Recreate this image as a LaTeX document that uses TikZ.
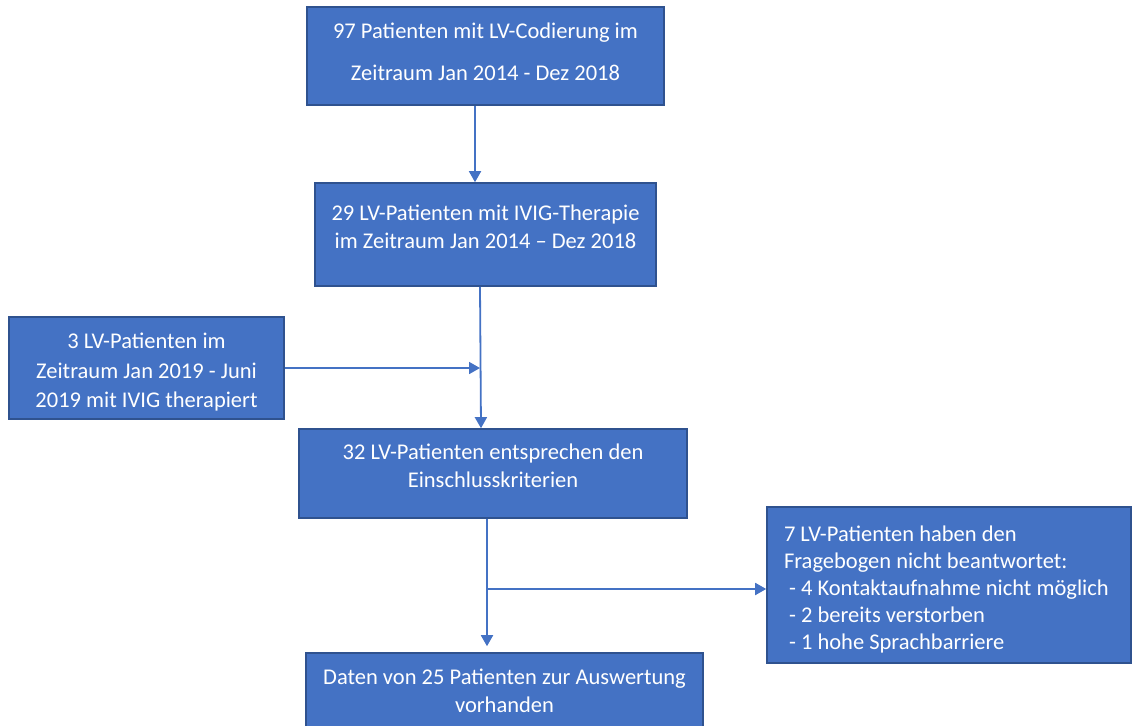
\documentclass[tikz,border=0pt]{standalone}
\usepackage{fontspec}
\setmainfont{Carlito}
\usepackage{tikz}
\usetikzlibrary{arrows.meta,calc}

\begin{document}
\begin{tikzpicture}[x=1bp, y=-1bp, font=\fontsize{22.5bp}{28bp}\selectfont, >={Triangle[length=11bp, width=12bp]},
  box/.style={draw=edgeblue, fill=boxblue, text=white, align=center, inner sep=0pt, line width=1.6bp},
  flow/.style={->, line width=1.8bp, draw=boxblue}]
\definecolor{boxblue}{RGB}{68,114,196}\definecolor{edgeblue}{RGB}{47,82,143}
\useasboundingbox (0,0) rectangle (1132,726);
% ---- main column
\node[box, minimum width=357bp, minimum height=98bp] (codier) at (485.5,56) {97 Patienten mit LV-Codierung im\\[14bp]Zeitraum Jan 2014 - Dez 2018\\[-20bp]\mbox{}};
\node[box, minimum width=341bp, minimum height=103bp] (ivig) at (485.5,234.5) {29 LV-Patienten mit IVIG-Therapie\\im Zeitraum Jan 2014 – Dez 2018\\[-13bp]\mbox{}};
\node[box, minimum width=388bp, minimum height=89bp] (einschl) at (493,473.5) {32 LV-Patienten entsprechen den\\Einschlusskriterien\\[-13bp]\mbox{}};
\node[box, minimum width=397bp, minimum height=89bp] (daten) at (504.5,697.5) {Daten von 25 Patienten zur Auswertung\\vorhanden\\[-14bp]\mbox{}};
% ---- side boxes
\node[box, minimum width=275bp, minimum height=102bp] (nachtrag) at (146.5,368) {\mbox{}\\[-5bp]3 LV-Patienten im\\[2bp]Zeitraum Jan 2019 - Juni\\[1bp]2019 mit IVIG therapiert};
\node[box, minimum width=364bp, minimum height=156bp, text width=330bp, inner xsep=17bp, align=flush left] (antwort) at (949,585) {\mbox{}\\[-3bp]7 LV-Patienten haben den\\[-1bp]Fragebogen nicht beantwortet:\\[-1bp]\ - 4 Kontaktaufnahme nicht möglich\\[-1bp]\ - 2 bereits verstorben\\[-1bp]\ - 1 hohe Sprachbarriere};
% ---- connectors
\coordinate (merge) at ([xshift=-5.5bp]ivig.south);
\coordinate (split) at ([xshift=-6bp]einschl.south |- antwort.west);
\draw[flow] ([xshift=-10.5bp]codier.south) -- ([xshift=-10.5bp]ivig.north);
\draw[flow] (merge) -- ([xshift=-12bp]einschl.north);
\draw[flow] (nachtrag.east) -- (nachtrag.east -| merge);
\draw[flow] ([xshift=-6bp]einschl.south) -- ([xshift=-17.5bp, yshift=6bp]daten.north);
\draw[flow] ([yshift=-4bp]split) -- ([yshift=-4bp]split -| antwort.west);
\end{tikzpicture}
\end{document}
